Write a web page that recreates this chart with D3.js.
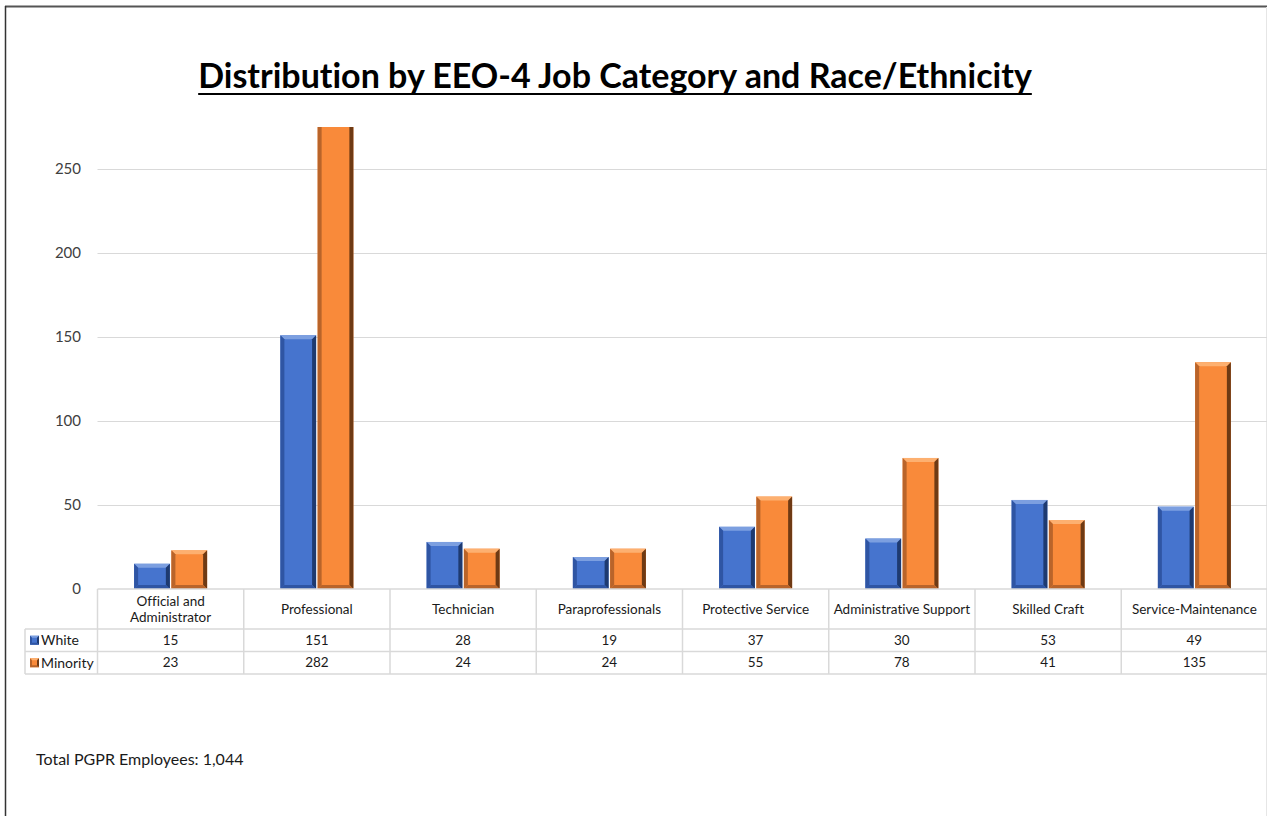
<!DOCTYPE html>
<html><head><meta charset="utf-8">
<script src="https://cdn.jsdelivr.net/npm/d3@7"></script>
<style>body{margin:0;background:#fff;} svg{display:block;} text{font-variant-ligatures:none;font-feature-settings:"liga" 0;}</style>
</head><body>
<svg id="c" width="1267" height="816"></svg>
<script>
const categories = ["Official and\nAdministrator","Professional","Technician","Paraprofessionals","Protective Service","Administrative Support","Skilled Craft","Service-Maintenance"];
const seriesNames = ["White","Minority"];
const whiteValues = [15,151,28,19,37,30,53,49];
const minorityValues = [23,282,24,24,55,78,41,135];
const yTicks = [0,50,100,150,200,250];
const yMax = 275;
const titleText = "Distribution by EEO-4 Job Category and Race/Ethnicity";
const footerText = "Total PGPR Employees: 1,044";

const colors = {White:{base:"#4674CE",light:"#7C9FE0",mid:"#2F55A3",dark:"#1E3A70"},
                Minority:{base:"#F98A3A",light:"#FDB070",mid:"#B9642A",dark:"#6E3A14"}};
const svg = d3.select("#c");
const font = "Lato, 'Open Sans', sans-serif";

// frame
svg.append("line").attr("x1",5).attr("x2",1267).attr("y1",6.5).attr("y2",6.5).attr("stroke","#555").attr("stroke-width",2);
svg.append("line").attr("x1",5.5).attr("x2",5.5).attr("y1",6).attr("y2",816).attr("stroke","#333").attr("stroke-width",1.5);
svg.append("line").attr("x1",1266.5).attr("x2",1266.5).attr("y1",7).attr("y2",816).attr("stroke","#e6e6e6").attr("stroke-width",1);

// title
const title = svg.append("text").attr("x",615).attr("y",88).attr("text-anchor","middle")
  .attr("font-family","Lato, sans-serif").attr("font-weight","bold").attr("font-size",29)
  .attr("fill","#000").text(titleText);
let tw = title.node().getComputedTextLength();
title.attr("font-size", 29*834/tw);
tw = title.node().getComputedTextLength();
svg.append("line").attr("x1",615-tw/2).attr("x2",615+tw/2).attr("y1",94).attr("y2",94).attr("stroke","#000").attr("stroke-width",2);

const plotL = 97.5, plotR = 1267.5, plotT = 127, plotB = 589;
const x = d3.scaleBand().domain(d3.range(categories.length)).range([plotL,plotR]).paddingInner(0).paddingOuter(0);
const y = d3.scaleLinear().domain([0,yMax]).range([plotB,plotT]);

// gridlines
svg.append("g").selectAll("line").data(yTicks.filter(d=>d>0)).join("line")
  .attr("x1",plotL).attr("x2",plotR).attr("y1",d=>Math.round(y(d))+0.5).attr("y2",d=>Math.round(y(d))+0.5)
  .attr("stroke","#d9d9d9").attr("stroke-width",1);

// y axis
const yAxis = d3.axisLeft(y).tickValues(yTicks).tickSize(0).tickPadding(0);
const ga = svg.append("g").attr("transform","translate(81,0)").call(yAxis);
ga.select(".domain").remove();
ga.selectAll("text").attr("font-family",font).attr("font-size",15).attr("fill","#404040").attr("dy","0.32em");

// bars
svg.append("clipPath").attr("id","pc").append("rect").attr("x",plotL).attr("y",plotT).attr("width",plotR-plotL).attr("height",plotB-plotT);
const barW = 35, gap = 3;
const sub = d3.scaleBand().domain(seriesNames).range([0, barW*2+gap]).paddingInner(gap/(barW*2+gap)).paddingOuter(0);
const bars = [];
categories.forEach((c,i)=>{
  bars.push({i, s:"White", v:whiteValues[i]});
  bars.push({i, s:"Minority", v:minorityValues[i]});
});
function bevel(g, x0, y0, w, h, col, b){
  const x1 = x0+w, y1 = y0+h;
  g.append("rect").attr("x",x0).attr("y",y0).attr("width",w).attr("height",h).attr("fill",col.base);
  b = Math.min(b, w/2, h/2);
  g.append("polygon").attr("points",[[x0,y0],[x1,y0],[x1-b,y0+b],[x0+b,y0+b]].join(" ")).attr("fill",col.light);
  g.append("polygon").attr("points",[[x0,y0],[x0+b,y0+b],[x0+b,y1-b],[x0,y1]].join(" ")).attr("fill",col.mid);
  g.append("polygon").attr("points",[[x1,y0],[x1,y1],[x1-b,y1-b],[x1-b,y0+b]].join(" ")).attr("fill",col.dark);
  g.append("polygon").attr("points",[[x0,y1],[x0+b,y1-b],[x1-b,y1-b],[x1,y1]].join(" ")).attr("fill",col.mid);
}
const gb = svg.append("g").attr("clip-path","url(#pc)");
bars.forEach(d=>{
  const cx = x(d.i) + x.bandwidth()/2 - (barW*2+gap)/2;
  const bx = cx + sub(d.s);
  const by = y(d.v);
  bevel(gb.append("g"), bx, by, sub.bandwidth(), plotB-by, colors[d.s], 4);
});

// data table
const tblL = 25, hdrT = 589, hdrB = 629, r1B = 651.5, r2B = 674;
const gridC = "#d9d9d9";
const gt = svg.append("g").attr("stroke",gridC).attr("stroke-width",1.5).attr("fill","none");
gt.append("line").attr("x1",plotL).attr("x2",plotR).attr("y1",hdrT).attr("y2",hdrT);
gt.append("line").attr("x1",tblL).attr("x2",plotR).attr("y1",hdrB).attr("y2",hdrB);
gt.append("line").attr("x1",tblL).attr("x2",plotR).attr("y1",r1B).attr("y2",r1B);
gt.append("line").attr("x1",tblL).attr("x2",plotR).attr("y1",r2B).attr("y2",r2B);
gt.append("line").attr("x1",tblL).attr("x2",tblL).attr("y1",hdrB).attr("y2",r2B);
gt.selectAll("line.v").data(d3.range(categories.length+1)).join("line").attr("class","v")
  .attr("x1",d=>d<categories.length?x(d):plotR).attr("x2",d=>d<categories.length?x(d):plotR)
  .attr("y1",hdrT).attr("y2",r2B);

const hdr = svg.append("g").attr("font-family",font).attr("font-size",13.5).attr("fill","#1a1a1a").attr("text-anchor","middle");
categories.forEach((c,i)=>{
  const lines = c.split("\n");
  const cx = x(i)+x.bandwidth()/2;
  const mid = (hdrT+hdrB)/2;
  lines.forEach((ln,k)=>{
    hdr.append("text").attr("x",cx).attr("y",mid + (k-(lines.length-1)/2)*16).attr("dy","0.35em").text(ln);
  });
});
const rows = [{s:"White", vals:whiteValues, t:hdrB, b:r1B},{s:"Minority", vals:minorityValues, t:r1B, b:r2B}];
const rg = svg.append("g").attr("font-family",font).attr("font-size",13.5).attr("fill","#1a1a1a");
rows.forEach(r=>{
  const mid = (r.t+r.b)/2;
  bevel(rg.append("g"), 30, mid-4.5, 9, 9, colors[r.s], 2);
  rg.append("text").attr("x",41).attr("y",mid).attr("dy","0.35em").attr("font-size",14).text(r.s);
  r.vals.forEach((v,i)=>{
    rg.append("text").attr("x",x(i)+x.bandwidth()/2).attr("y",mid).attr("dy","0.35em").attr("text-anchor","middle").text(v);
  });
});

// footer
svg.append("text").attr("x",36).attr("y",765).attr("font-family",font).attr("font-size",16).attr("fill","#1a1a1a").text(footerText);
</script>
</body></html>
